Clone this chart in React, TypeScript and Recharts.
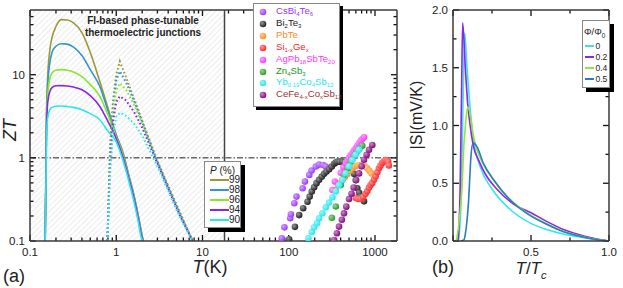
import React from "react";
import { ComposedChart, LineChart, Line, Scatter, XAxis, YAxis, ReferenceArea, ReferenceLine } from "recharts";

const FONT = '"Liberation Sans", Arial, Helvetica, sans-serif';

// ---------- panel (a): ZT vs T ----------
const X_MAJOR = [0.1, 1, 10, 100, 1000];
const X_MINOR = [0.2, 0.3, 0.4, 0.5, 0.6, 0.7, 0.8, 0.9, 2, 3, 4, 5, 6, 7, 8, 9, 20, 30, 40, 50, 60, 70, 80, 90, 200, 300, 400, 500, 600, 700, 800, 900];
const Y_MAJOR = [0.1, 1, 10];
const Y_MINOR = [0.2, 0.3, 0.4, 0.5, 0.6, 0.7, 0.8, 0.9, 2, 3, 4, 5, 6, 7, 8, 9, 20, 30, 40, 50];

const P_LEVELS = ["99", "98", "96", "94", "90"];
const P_COLORS = ["#9c983a", "#3196d0", "#86e82a", "#8a26ea", "#2ae6ee"];

// solid curves
const T_SOLID = [0.15, 0.155, 0.16, 0.17, 0.18, 0.2, 0.23, 0.27, 0.32, 0.4, 0.5, 0.645, 0.8, 1.0, 1.2, 1.4, 1.6, 1.8, 1.95, 2.05];
const ZT_SOLID = [
  [0.1, 3, 9, 20, 28, 38, 46, 45.5, 42, 32, 18.5, 8.3, 4.0, 1.9, 1.15, 0.62, 0.36, 0.2, 0.13, 0.1],
  [0.1, 2.5, 7, 14, 18.5, 22, 23.6, 23.3, 21.5, 17, 11.5, 7.2, 3.7, 1.85, 1.1, 0.6, 0.35, 0.2, 0.13, 0.1],
  [0.1, 2, 5.5, 9, 10.5, 11.3, 11.5, 11.3, 10.8, 9.5, 7.6, 5.5, 3.3, 1.78, 1.06, 0.58, 0.34, 0.19, 0.125, 0.1],
  [0.1, 1.8, 4.5, 6.3, 7, 7.35, 7.4, 7.3, 7.1, 6.6, 5.6, 4.15, 2.75, 1.7, 1.0, 0.56, 0.33, 0.185, 0.12, 0.1],
  [0.1, 1.4, 3.0, 3.8, 4.05, 4.18, 4.2, 4.15, 4.05, 3.8, 3.4, 2.87, 2.1, 1.55, 0.92, 0.52, 0.3, 0.17, 0.11, 0.1],
];

// dotted curves
const T_DOT = [0.79, 0.85, 0.92, 1.0, 1.1, 1.3, 1.6, 2.0, 2.9, 4.0, 5.5, 7.7];
const ZT_DOT = [
  [0.1, 1.5, 5, 10, 14.5, 9.3, 5.2, 2.8, 1.0, 0.46, 0.22, 0.1],
  [0.1, 1.3, 4.3, 8.5, 11, 8.1, 4.9, 2.7, 0.98, 0.45, 0.21, 0.1],
  [0.1, 1.1, 3.5, 6.5, 7.9, 6.6, 4.4, 2.6, 0.97, 0.44, 0.21, 0.1],
  [0.1, 0.9, 2.8, 4.7, 5.5, 4.9, 3.6, 2.3, 0.93, 0.43, 0.2, 0.1],
  [0.1, 0.7, 2.0, 3.1, 3.5, 3.2, 2.6, 1.85, 0.85, 0.4, 0.19, 0.1],
];

// experimental materials
const MAT_NAMES = [
  ["CsBi", "4", "Te", "6"],
  ["Bi", "2", "Te", "3"],
  ["PbTe"],
  ["Si", "1-x", "Ge", "x"],
  ["AgPb", "18", "SbTe", "20"],
  ["Zn", "4", "Sb", "3"],
  ["Yb", "0.19", "Co", "4", "Sb", "12"],
  ["CeFe", "4-x", "Co", "x", "Sb", "12"],
];
const MAT_COLORS = ["#9933ff", "#1a1a1a", "#ff8c1a", "#ff2222", "#ff33ff", "#229922", "#22e6ee", "#800080"];
const MAT_TEXT = ["#9933ff", "#1a1a1a", "#ff8c1a", "#ff2222", "#ff33ff", "#229922", "#22e6ee", "#993333"];

const CSBI_T = [83, 89, 104, 106, 116, 123, 145, 154, 173, 184, 206, 225, 251, 269, 288];
const CSBI_ZT = [0.108, 0.146, 0.188, 0.21, 0.285, 0.342, 0.431, 0.518, 0.624, 0.703, 0.786, 0.83, 0.82, 0.786, 0.73];
const BITE_T = [101, 118, 132, 147, 165, 175, 185, 197, 210, 225, 242, 257, 274, 294, 316, 336, 351, 367, 390, 419, 450, 479, 510, 547, 575, 598, 624, 655, 684, 715, 746];
const BITE_ZT = [0.105, 0.148, 0.205, 0.248, 0.297, 0.342, 0.393, 0.443, 0.496, 0.544, 0.595, 0.643, 0.683, 0.73, 0.786, 0.85, 0.88, 0.9, 0.9, 0.9, 0.89, 0.866, 0.82, 0.75, 0.64, 0.54, 0.43, 0.38, 0.34, 0.32, 0.3];
const PBTE_T = [351, 373, 396, 419, 448, 479, 512, 547, 585, 624, 667, 713, 760, 810, 860, 913];
const PBTE_ZT = [0.41, 0.47, 0.5, 0.54, 0.59, 0.64, 0.7, 0.75, 0.79, 0.81, 0.82, 0.81, 0.79, 0.75, 0.7, 0.65];
const SIGE_T = [600, 640, 684, 730, 778, 815, 853, 890, 931, 975, 1019, 1065, 1113, 1160, 1215, 1270, 1328, 1380, 1420, 1450];
const SIGE_ZT = [0.33, 0.32, 0.32, 0.34, 0.37, 0.4, 0.44, 0.47, 0.5, 0.55, 0.6, 0.67, 0.75, 0.81, 0.87, 0.91, 0.94, 0.93, 0.9, 0.81];
const AGPB_T = [321, 342, 401, 430, 458, 480, 500, 523, 547, 572, 598, 625, 653, 685, 715, 746];
const AGPB_ZT = [0.41, 0.52, 0.66, 0.77, 0.87, 0.93, 1.0, 1.07, 1.14, 1.22, 1.3, 1.4, 1.5, 1.6, 1.68, 1.77];
const ZNSB_T = [316, 351, 401, 437, 479, 520, 565, 614, 660, 713];
const ZNSB_ZT = [0.19, 0.26, 0.47, 0.62, 0.75, 0.9, 1.04, 1.19, 1.3, 1.4];
const YB_T = [169, 185, 197, 213, 225, 246, 269, 294, 321, 351, 383, 419, 458, 500, 547, 598, 653];
const YB_ZT = [0.108, 0.128, 0.146, 0.163, 0.188, 0.216, 0.254, 0.29, 0.336, 0.395, 0.47, 0.544, 0.65, 0.79, 0.94, 1.09, 1.25];
const CEFE_T = [336, 362, 383, 413, 437, 465, 500, 535, 565, 605, 653, 700, 746, 800, 853, 931];
const CEFE_ZT = [0.103, 0.124, 0.149, 0.18, 0.215, 0.259, 0.32, 0.37, 0.44, 0.54, 0.65, 0.79, 0.95, 1.09, 1.25, 1.43];

const MAT_T = [CSBI_T, BITE_T, PBTE_T, SIGE_T, AGPB_T, ZNSB_T, YB_T, CEFE_T];
const MAT_ZT = [CSBI_ZT, BITE_ZT, PBTE_ZT, SIGE_ZT, AGPB_ZT, ZNSB_ZT, YB_ZT, CEFE_ZT];

// ---------- panel (b): |S| vs T/Tc ----------
const PHI_LEVELS = ["0", "0.2", "0.4", "0.5"];
const PHI_COLORS = ["#36e4ee", "#8a26ea", "#96e436", "#2a7dbf"];
const S_X = [
  [0.035, 0.05, 0.06, 0.068, 0.0746, 0.09, 0.111, 0.132, 0.175, 0.25, 0.345, 0.495, 0.6, 0.708, 0.82, 0.92, 1.0],
  [0.032, 0.045, 0.055, 0.062, 0.079, 0.094, 0.111, 0.132, 0.164, 0.207, 0.281, 0.388, 0.5, 0.6, 0.708, 0.8, 0.878, 0.95, 1.0],
  [0.021, 0.043, 0.058, 0.068, 0.079, 0.094, 0.111, 0.128, 0.154, 0.196, 0.26, 0.345, 0.495, 0.6, 0.708, 0.8, 0.878, 0.95, 1.0],
  [0.05, 0.07, 0.079, 0.09, 0.1, 0.115, 0.128, 0.154, 0.196, 0.26, 0.345, 0.495, 0.6, 0.708, 0.8, 0.878, 0.95, 1.0],
];
const S_Y = [
  [0, 0.3, 0.9, 1.45, 1.8, 1.5, 1.13, 0.87, 0.64, 0.45, 0.3, 0.155, 0.1, 0.06, 0.032, 0.012, 0],
  [0, 0.4, 1.3, 1.89, 1.5, 1.19, 0.99, 0.815, 0.7, 0.58, 0.45, 0.32, 0.245, 0.17, 0.1, 0.058, 0.03, 0.01, 0],
  [0, 0.21, 0.47, 0.79, 0.99, 1.16, 1.09, 0.93, 0.79, 0.66, 0.53, 0.39, 0.225, 0.15, 0.085, 0.048, 0.024, 0.008, 0],
  [0, 0.01, 0.06, 0.18, 0.35, 0.73, 0.85, 0.815, 0.67, 0.53, 0.385, 0.22, 0.145, 0.08, 0.045, 0.022, 0.007, 0],
];
const B_X_MAJOR = [0, 0.5, 1];
const B_X_TICKS = [0, 0.25, 0.5, 0.75, 1];
const B_X_LABELS = [0.5, 1];
const B_Y_MAJOR = [0, 0.5, 1, 1.5, 2];
const B_Y_TICKS = [0, 0.25, 0.5, 0.75, 1, 1.25, 1.5, 1.75, 2];

const AXIS = { stroke: "#3a3a3a", strokeWidth: 1.5 };
const TICK_STYLE = { stroke: "#111", strokeWidth: 1.3, ifOverflow: "visible" as const };

function lighten(hex: string, k: number) {
  const n = parseInt(hex.slice(1), 16);
  const c = [(n >> 16) & 255, (n >> 8) & 255, n & 255].map(v => Math.round(v + (255 - v) * k));
  return `rgb(${c[0]},${c[1]},${c[2]})`;
}

// tick label only (marks are drawn as reference segments)
function TickLabel(props: any) {
  const { x, y, payload, side, labels, digits } = props;
  const v = payload.value;
  if (!labels || !labels.includes(v)) return <g />;
  const txt = digits != null ? Number(v).toFixed(digits) : String(v);
  if (side === "bottom") return <text x={x} y={y + 15} textAnchor="middle" fontFamily={FONT} fontSize={11.5} fill="#222">{txt}</text>;
  return <text x={x - 5} y={y + 4} textAnchor="end" fontFamily={FONT} fontSize={11.5} fill="#222">{txt}</text>;
}

function Formula({ parts }: { parts: string[] }) {
  return (
    <>
      {parts.map((s, k) =>
        k % 2 ? <span key={k} style={{ fontSize: 6, position: "relative", top: 2 }}>{s}</span> : <span key={k}>{s}</span>
      )}
    </>
  );
}

const abs = (left: number, top: number, extra: React.CSSProperties = {}): React.CSSProperties => ({
  position: "absolute", left, top, fontFamily: FONT, color: "#222", whiteSpace: "nowrap", ...extra,
});

export default function App() {
  const xTicksA = [...X_MAJOR, ...X_MINOR].sort((a, b) => a - b);
  const yTicksA = [...Y_MAJOR, ...Y_MINOR].sort((a, b) => a - b);
  const solid = ZT_SOLID.map(row => T_SOLID.map((t, j) => ({ t, zt: row[j] })));
  const dotted = ZT_DOT.map(row => T_DOT.map((t, j) => ({ t, zt: row[j] })));
  const mats = MAT_T.map((ts, i) => ts.map((t, j) => ({ t, zt: MAT_ZT[i][j] })));
  const sCurves = S_X.map((xs, i) => xs.map((x, j) => ({ x, s: S_Y[i][j] })));

  // inward tick marks as short segments (log axes: factor per pixel)
  const fy = (px: number) => Math.pow(10, px / 83.2);
  const fx = (px: number) => Math.pow(10, px / 86.3);
  const tickSegsA: { x: number; y: number }[][] = [];
  xTicksA.forEach(v => {
    const len = X_MAJOR.includes(v) ? 6 : 3.5;
    tickSegsA.push([{ x: v, y: 0.1 }, { x: v, y: 0.1 * fy(len) }]);
    tickSegsA.push([{ x: v, y: 60 }, { x: v, y: 60 / fy(len) }]);
  });
  yTicksA.forEach(v => {
    const len = Y_MAJOR.includes(v) ? 6 : 3.5;
    tickSegsA.push([{ x: 0.1, y: v }, { x: 0.1 * fx(len), y: v }]);
    tickSegsA.push([{ x: 1800, y: v }, { x: 1800 / fx(len), y: v }]);
  });
  const tickSegsB: { x: number; y: number }[][] = [];
  B_X_TICKS.forEach(v => {
    const d = (B_X_MAJOR.includes(v) ? 6 : 3.5) * (2 / 231);
    tickSegsB.push([{ x: v, y: 0 }, { x: v, y: d }]);
    tickSegsB.push([{ x: v, y: 2 }, { x: v, y: 2 - d }]);
  });
  B_Y_TICKS.forEach(v => {
    const d = (B_Y_MAJOR.includes(v) ? 6 : 3.5) * (1 / 156);
    tickSegsB.push([{ x: 0, y: v }, { x: d, y: v }]);
    tickSegsB.push([{ x: 1, y: v }, { x: 1 - d, y: v }]);
  });

  const logX = { type: "number" as const, scale: "log" as const, domain: [0.1, 1800], allowDataOverflow: true, ticks: xTicksA, interval: 0, tickSize: 0, tickMargin: 0, tickLine: false, axisLine: AXIS, dataKey: "t" };
  const logY = { type: "number" as const, scale: "log" as const, domain: [0.1, 60], allowDataOverflow: true, ticks: yTicksA, interval: 0, tickSize: 0, tickMargin: 0, tickLine: false, axisLine: AXIS, dataKey: "zt" };
  const linX = { type: "number" as const, domain: [0, 1], allowDataOverflow: true, ticks: B_X_TICKS, interval: 0, tickSize: 0, tickMargin: 0, tickLine: false, axisLine: AXIS, dataKey: "x" };
  const linY = { type: "number" as const, domain: [0, 2], allowDataOverflow: true, ticks: B_Y_TICKS, interval: 0, tickSize: 0, tickMargin: 0, tickLine: false, axisLine: AXIS, dataKey: "s" };

  return (
    <div style={{ position: "absolute", left: 0, top: 0, width: 623, height: 288, background: "#fff", overflow: "hidden" }}>
      <svg width={0} height={0} style={{ position: "absolute" }}>
        <defs>
          <pattern id="hatch" width={4} height={4} patternUnits="userSpaceOnUse" patternTransform="rotate(45)">
            <line x1={0} y1={0} x2={0} y2={4} stroke="#dadada" strokeWidth={1} />
          </pattern>
          {MAT_COLORS.map((c, i) => (
            <radialGradient key={i} id={`ball${i}`} cx="35%" cy="35%" r="70%">
              <stop offset="0%" stopColor={lighten(c, 0.55)} />
              <stop offset="100%" stopColor={c} />
            </radialGradient>
          ))}
        </defs>
      </svg>

      <div style={{ position: "absolute", left: 0, top: 0 }}>
        <ComposedChart width={420} height={288} margin={{ top: 9, right: 22, bottom: 27, left: 0 }}>
          <ReferenceArea xAxisId="b" yAxisId="l" x1={0.1} x2={18} y1={0.1} y2={60} fill="url(#hatch)" fillOpacity={1} stroke="none" ifOverflow="visible" />
          <ReferenceLine xAxisId="b" yAxisId="l" x={18} stroke="#444" strokeWidth={1.5} />
          <ReferenceLine xAxisId="b" yAxisId="l" y={1} stroke="#222" strokeWidth={1} strokeDasharray="6 2 1.5 2" />
          <XAxis xAxisId="b" {...logX} height={20} tick={(p: any) => <TickLabel {...p} side="bottom" labels={X_MAJOR} />} />
          <XAxis xAxisId="t" orientation="top" {...logX} height={1} tick={false} />
          <YAxis yAxisId="l" {...logY} width={30} tick={(p: any) => <TickLabel {...p} side="left" labels={Y_MAJOR} />} />
          <YAxis yAxisId="r" orientation="right" {...logY} width={1} tick={false} />
          {tickSegsA.map((s, i) => (
            <ReferenceLine key={`ta${i}`} xAxisId="b" yAxisId="l" segment={s} {...TICK_STYLE} />
          ))}
          {solid.map((d, i) => (
            <Line key={`s${i}`} xAxisId="b" yAxisId="l" data={d} dataKey="zt" type="monotone" stroke={P_COLORS[i]} strokeWidth={1.6} dot={false} isAnimationActive={false} />
          ))}
          {dotted.map((d, i) => (
            <Line key={`d${i}`} xAxisId="b" yAxisId="l" data={d} dataKey="zt" type="linear" stroke={P_COLORS[i]} strokeWidth={2} strokeDasharray="1.6 2.4" dot={false} isAnimationActive={false} />
          ))}
          {mats.map((d, i) => (
            <Scatter key={`m${i}`} xAxisId="b" yAxisId="l" data={d} dataKey="zt" isAnimationActive={false}
              shape={(p: any) => <circle cx={p.cx} cy={p.cy} r={3.3} fill={`url(#ball${i})`} />} />
          ))}
        </ComposedChart>
      </div>

      <div style={{ position: "absolute", left: 430, top: 0 }}>
        <LineChart width={193} height={288} margin={{ top: 9, right: 13, bottom: 27, left: 0 }}>
          <XAxis xAxisId="b" {...linX} height={20} tick={(p: any) => <TickLabel {...p} side="bottom" labels={B_X_LABELS} digits={1} />} />
          <XAxis xAxisId="t" orientation="top" {...linX} height={1} tick={false} />
          <YAxis yAxisId="l" {...linY} width={23} tick={(p: any) => <TickLabel {...p} side="left" labels={B_Y_MAJOR} digits={1} />} />
          <YAxis yAxisId="r" orientation="right" {...linY} width={1} tick={false} />
          {tickSegsB.map((s, i) => (
            <ReferenceLine key={`tb${i}`} xAxisId="b" yAxisId="l" segment={s} {...TICK_STYLE} />
          ))}
          {sCurves.map((d, i) => (
            <Line key={i} xAxisId="b" yAxisId="l" data={d} dataKey="s" type="monotone" stroke={PHI_COLORS[i]} strokeWidth={1.6} dot={false} isAnimationActive={false} />
          ))}
        </LineChart>
      </div>

      {/* panel (a) texts */}
      <div style={abs(143, 15, { fontSize: 10, fontWeight: "bold", textAlign: "center", lineHeight: "12px", transform: "translateX(-50%)" })}>
        FI-based phase-tunable<br />thermoelectric junctions
      </div>
      <div style={abs(10, 130, { fontSize: 18, fontStyle: "italic", transform: "translate(-50%,-50%) rotate(-90deg)" })}>ZT</div>
      <div style={abs(210, 267, { fontSize: 18, transform: "translate(-50%,-50%)" })}><i>T</i>(K)</div>
      <div style={abs(3, 266, { fontSize: 18 })}>(a)</div>

      {/* materials legend */}
      <div style={abs(253, 3, { width: 87, height: 104, background: "#fff", border: "1px solid #888", boxShadow: "3px 3px 0 #000", boxSizing: "border-box" })} />
      {MAT_NAMES.map((parts, i) => (
        <React.Fragment key={i}>
          <svg style={{ position: "absolute", left: 259, top: 12 + i * 11.9 - 4 }} width={8} height={8}>
            <circle cx={4} cy={4} r={3.3} fill={`url(#ball${i})`} />
          </svg>
          <div style={abs(276, 12 + i * 11.9 - 7, { fontSize: 9.6, lineHeight: "12px", color: MAT_TEXT[i] })}>
            <Formula parts={parts} />
          </div>
        </React.Fragment>
      ))}

      {/* P legend */}
      <div style={abs(204, 161, { width: 37, height: 67, background: "#fff", border: "1px solid #888", boxShadow: "4px 4px 0 #000", boxSizing: "border-box" })} />
      <div style={abs(210, 165, { fontSize: 10, lineHeight: "12px" })}><i>P</i> (%)</div>
      {P_LEVELS.map((p, i) => (
        <React.Fragment key={p}>
          <div style={{ position: "absolute", left: 210, top: 179 + i * 10, width: 19, height: 2, background: P_COLORS[i] }} />
          <div style={abs(229, 174 + i * 10, { fontSize: 10, lineHeight: "12px" })}>{p}</div>
        </React.Fragment>
      ))}

      {/* panel (b) texts */}
      <div style={abs(417, 115, { fontSize: 16, transform: "translate(-50%,-50%) rotate(-90deg)" })}>|S|(mV/K)</div>
      <div style={abs(531, 270, { fontSize: 17, transform: "translate(-50%,-50%)" })}>
        <i>T</i>/<i>T</i><sub style={{ fontSize: 11, fontStyle: "italic" }}>c</sub>
      </div>
      <div style={abs(432, 257, { fontSize: 18 })}>(b)</div>

      {/* Phi legend */}
      <div style={abs(582, 20, { width: 28, height: 68, background: "#fff", border: "1px solid #888", boxShadow: "4px 4px 0 #000", boxSizing: "border-box" })} />
      <div style={abs(584, 26, { fontSize: 9.5, lineHeight: "12px" })}>Φ/Φ<sub style={{ fontSize: 6.5 }}>0</sub></div>
      {PHI_LEVELS.map((p, i) => (
        <React.Fragment key={p}>
          <div style={{ position: "absolute", left: 585, top: 45 + i * 11, width: 9, height: 2, background: PHI_COLORS[i] }} />
          <div style={abs(595.5, 40 + i * 11, { fontSize: 8.5, lineHeight: "12px" })}>{p}</div>
        </React.Fragment>
      ))}
    </div>
  );
}
